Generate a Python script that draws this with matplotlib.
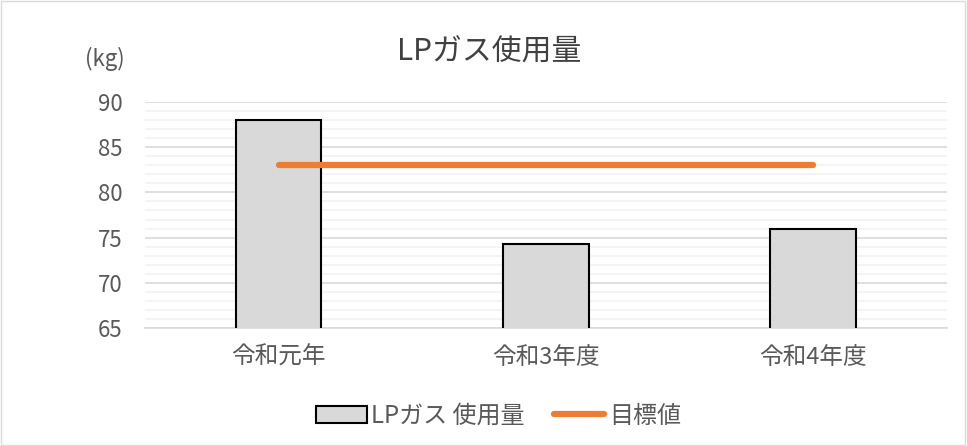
import matplotlib.pyplot as plt
from matplotlib.ticker import MultipleLocator

plt.rcParams['font.family'] = ['Noto Sans CJK JP', 'DejaVu Sans']

# --- データ ---
categories = ["令和元年", "令和3年度", "令和4年度"]
usage = [88.0, 74.3, 76.0]
target = [83, 83, 83]

fig = plt.figure(figsize=(9.67, 4.46), dpi=100)
ax = fig.add_axes([0.150, 0.2646, 0.829, 0.5067])

x = range(len(categories))
bars = ax.bar(x, usage, width=0.32, color="#d9d9d9", edgecolor="black", linewidth=1.5,
              label="LPガス 使用量", zorder=3)
line, = ax.plot(x, target, color="#ed7d31", linewidth=4.5, solid_capstyle="round",
                label="目標値", zorder=4)

ax.set_ylim(65, 90)
ax.set_xlim(-0.5, 2.5)
ax.yaxis.set_major_locator(MultipleLocator(5))
ax.yaxis.set_minor_locator(MultipleLocator(1))
ax.grid(axis="y", which="major", color="#d9d9d9", linewidth=1.2, zorder=0)
ax.grid(axis="y", which="minor", color="#f2f2f2", linewidth=1.2, zorder=0)
ax.set_xticks(list(x))
ax.set_xticklabels(categories)
ax.tick_params(axis="both", which="both", length=0, labelcolor="#595959")
ax.tick_params(axis="x", labelsize=17, pad=13)
ax.tick_params(axis="y", labelsize=16, pad=16)
for s in ["top", "right", "left"]:
    ax.spines[s].set_visible(False)
ax.spines["bottom"].set_color("#d9d9d9")
ax.spines["bottom"].set_linewidth(1.2)

fig.text(0.506, 0.883, "LPガス使用量", ha="center", va="center", fontsize=21.5, color="#404040")
fig.text(0.108, 0.868, "(kg)", ha="center", va="center", fontsize=16, color="#595959")

leg = fig.legend([bars, line], ["LPガス 使用量", "目標値"], loc="center",
                 bbox_to_anchor=(0.5155, 0.068), ncol=2, frameon=False,
                 fontsize=17.3, handlelength=2.1, columnspacing=1.2, handletextpad=0.2)
for t in leg.get_texts():
    t.set_color("#595959")

fig.patches.append(plt.Rectangle((0.001, 0.002), 0.997, 0.995, transform=fig.transFigure,
                                 fill=False, edgecolor="#d9d9d9", linewidth=1))

fig.savefig("out.png", dpi=100)
